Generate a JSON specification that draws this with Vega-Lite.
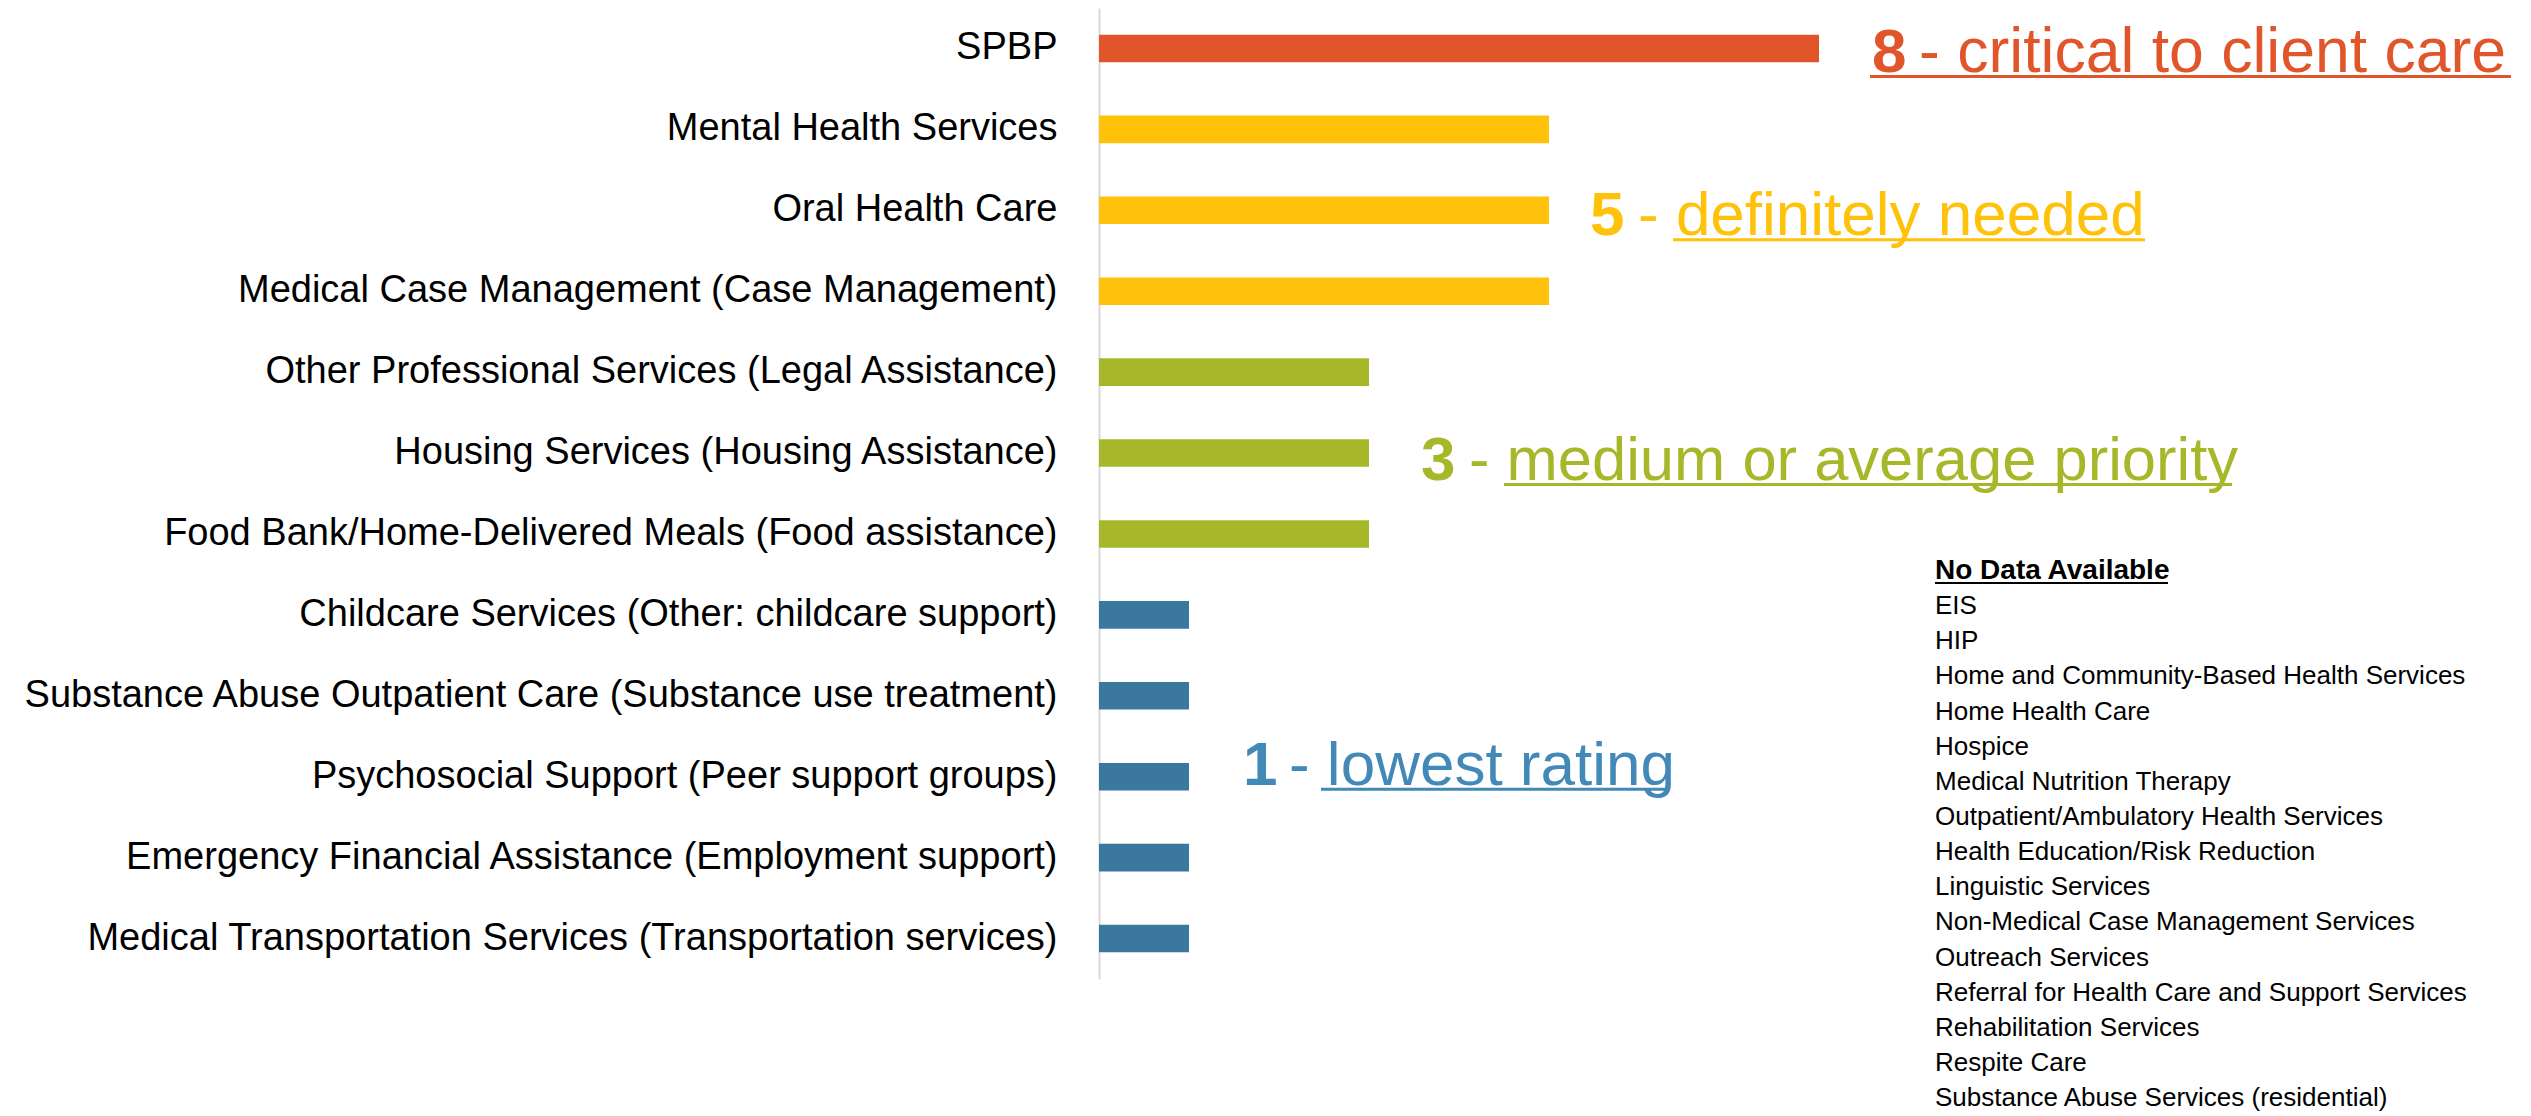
{
  "$schema": "https://vega.github.io/schema/vega-lite/v6.json",
  "autosize": {"type": "none"},
  "padding": {"left": 1099, "top": 8, "right": 0, "bottom": 137},
  "width": 1432,
  "height": 971,
  "background": "white",
  "config": {"view": {"stroke": null}, "font": "Liberation Sans"},
  "datasets": {
    "services": [
      {"service": "SPBP", "score": 8},
      {"service": "Mental Health Services", "score": 5},
      {"service": "Oral Health Care ", "score": 5},
      {"service": "Medical Case Management (Case Management)", "score": 5},
      {"service": "Other Professional Services (Legal Assistance)", "score": 3},
      {"service": "Housing Services (Housing Assistance)", "score": 3},
      {"service": "Food Bank/Home-Delivered Meals (Food assistance)", "score": 3},
      {"service": "Childcare Services (Other: childcare support)", "score": 1},
      {"service": "Substance Abuse Outpatient Care (Substance use treatment)", "score": 1},
      {"service": "Psychosocial Support (Peer support groups)", "score": 1},
      {"service": "Emergency Financial Assistance (Employment support)", "score": 1},
      {"service": "Medical Transportation Services (Transportation services)", "score": 1}
    ],
    "notes": [
      {"service": "SPBP", "level": 8, "num": "8", "rest": "- critical to client care"},
      {"service": "Oral Health Care ", "level": 5, "num": "5", "rest": "- definitely needed"},
      {"service": "Housing Services (Housing Assistance)", "level": 3, "num": "3", "rest": "- medium or average priority"},
      {"service": "Psychosocial Support (Peer support groups)", "level": 1, "num": "1", "rest": "- lowest rating"}
    ],
    "nodata": [
      {"k": 0, "item": "No Data Available"},
      {"k": 1, "item": "EIS"},
      {"k": 2, "item": "HIP"},
      {"k": 3, "item": "Home and Community-Based Health Services"},
      {"k": 4, "item": "Home Health Care"},
      {"k": 5, "item": "Hospice"},
      {"k": 6, "item": "Medical Nutrition Therapy"},
      {"k": 7, "item": "Outpatient/Ambulatory Health Services"},
      {"k": 8, "item": "Health Education/Risk Reduction"},
      {"k": 9, "item": "Linguistic Services"},
      {"k": 10, "item": "Non-Medical Case Management Services"},
      {"k": 11, "item": "Outreach Services"},
      {"k": 12, "item": "Referral for Health Care and Support Services"},
      {"k": 13, "item": "Rehabilitation Services"},
      {"k": 14, "item": "Respite Care"},
      {"k": 15, "item": "Substance Abuse Services (residential)"}
    ]
  },
  "layer": [
    {
      "layer": [
        {
          "data": {"name": "services"},
          "mark": {"type": "bar"},
          "encoding": {
            "y": {
              "field": "service", "type": "nominal",
              "scale": {
                "domain": ["SPBP", "Mental Health Services", "Oral Health Care ", "Medical Case Management (Case Management)", "Other Professional Services (Legal Assistance)", "Housing Services (Housing Assistance)", "Food Bank/Home-Delivered Meals (Food assistance)", "Childcare Services (Other: childcare support)", "Substance Abuse Outpatient Care (Substance use treatment)", "Psychosocial Support (Peer support groups)", "Emergency Financial Assistance (Employment support)", "Medical Transportation Services (Transportation services)"],
                "paddingInner": 0.66, "paddingOuter": 0.33
              },
              "axis": {"title": null, "ticks": false, "tickSize": 0, "grid": false, "domainColor": "#D9D9D9", "domainWidth": 2, "labelFontSize": 38, "labelColor": "#000000", "labelPadding": 42, "labelLimit": 1100, "labelFont": "Liberation Sans"}
            },
            "x": {"field": "score", "type": "quantitative", "scale": {"domain": [0, 15.911], "nice": false}, "axis": null},
            "color": {"field": "score", "type": "ordinal", "scale": {"domain": [8, 5, 3, 1], "range": ["#E0562A", "#FFC20A", "#A6B829", "#3A799D"]}, "legend": null}
          }
        },
        {
          "data": {"name": "notes"},
          "transform": [{"filter": "datum.level == 8"}],
          "encoding": {
            "x": {"field": "level", "type": "quantitative", "axis": null},
            "y": {"field": "service", "type": "nominal"}
          },
          "layer": [
            {"mark": {"type": "text", "align": "left", "baseline": "alphabetic", "dx": 53, "dy": 23.6, "fontSize": 62, "fontWeight": "bold", "color": "#E0562A"}, "encoding": {"text": {"field": "num"}}},
            {"mark": {"type": "text", "align": "left", "baseline": "alphabetic", "dx": 100, "dy": 23.6, "fontSize": 62.5, "color": "#E0562A"}, "encoding": {"text": {"field": "rest"}}},
            {"mark": {"type": "rule", "xOffset": 51, "x2Offset": 692, "yOffset": 28, "strokeWidth": 3, "color": "#E0562A"}, "encoding": {"x2": {"field": "level"}}}
          ]
        },
        {
          "data": {"name": "notes"},
          "transform": [{"filter": "datum.level == 5"}],
          "encoding": {
            "x": {"field": "level", "type": "quantitative", "axis": null},
            "y": {"field": "service", "type": "nominal"}
          },
          "layer": [
            {"mark": {"type": "text", "align": "left", "baseline": "alphabetic", "dx": 41, "dy": 25, "fontSize": 62, "fontWeight": "bold", "color": "#FFC20A"}, "encoding": {"text": {"field": "num"}}},
            {"mark": {"type": "text", "align": "left", "baseline": "alphabetic", "dx": 89, "dy": 25, "fontSize": 62, "color": "#FFC20A"}, "encoding": {"text": {"field": "rest"}}},
            {"mark": {"type": "rule", "xOffset": 124, "x2Offset": 596, "yOffset": 29.5, "strokeWidth": 3, "color": "#FFC20A"}, "encoding": {"x2": {"field": "level"}}}
          ]
        },
        {
          "data": {"name": "notes"},
          "transform": [{"filter": "datum.level == 3"}],
          "encoding": {
            "x": {"field": "level", "type": "quantitative", "axis": null},
            "y": {"field": "service", "type": "nominal"}
          },
          "layer": [
            {"mark": {"type": "text", "align": "left", "baseline": "alphabetic", "dx": 52, "dy": 27, "fontSize": 62, "fontWeight": "bold", "color": "#A6B829"}, "encoding": {"text": {"field": "num"}}},
            {"mark": {"type": "text", "align": "left", "baseline": "alphabetic", "dx": 100, "dy": 27, "fontSize": 61.5, "color": "#A6B829"}, "encoding": {"text": {"field": "rest"}}},
            {"mark": {"type": "rule", "xOffset": 135, "x2Offset": 863, "yOffset": 31.5, "strokeWidth": 3, "color": "#A6B829"}, "encoding": {"x2": {"field": "level"}}}
          ]
        },
        {
          "data": {"name": "notes"},
          "transform": [{"filter": "datum.level == 1"}],
          "encoding": {
            "x": {"field": "level", "type": "quantitative", "axis": null},
            "y": {"field": "service", "type": "nominal"}
          },
          "layer": [
            {"mark": {"type": "text", "align": "left", "baseline": "alphabetic", "dx": 54, "dy": 8.4, "fontSize": 62, "fontWeight": "bold", "color": "#4389B7"}, "encoding": {"text": {"field": "num"}}},
            {"mark": {"type": "text", "align": "left", "baseline": "alphabetic", "dx": 100, "dy": 8.4, "fontSize": 62, "color": "#4389B7"}, "encoding": {"text": {"field": "rest"}}},
            {"mark": {"type": "rule", "xOffset": 132, "x2Offset": 481, "yOffset": 12.5, "strokeWidth": 3, "color": "#4389B7"}, "encoding": {"x2": {"field": "level"}}}
          ]
        }
      ]
    },
    {
      "data": {"name": "nodata"},
      "encoding": {
        "x": {"datum": 9.289, "type": "quantitative", "axis": null},
        "y": {"field": "k", "type": "quantitative", "scale": {"domain": [-16.017, 11.608], "reverse": true, "nice": false, "zero": false}, "axis": null}
      },
      "layer": [
        {"transform": [{"filter": "datum.k == 0"}], "mark": {"type": "text", "align": "left", "baseline": "middle", "fontSize": 28, "fontWeight": "bold", "color": "#000000"}, "encoding": {"text": {"field": "item"}}},
        {"transform": [{"filter": "datum.k > 0"}], "mark": {"type": "text", "align": "left", "baseline": "middle", "fontSize": 26, "color": "#000000"}, "encoding": {"text": {"field": "item"}}},
        {"transform": [{"filter": "datum.k == 0"}], "mark": {"type": "rule", "yOffset": 12, "strokeWidth": 2, "color": "#000000"}, "encoding": {"x2": {"datum": 11.878}}}
      ]
    }
  ],
  "resolve": {"scale": {"y": "independent"}}
}
